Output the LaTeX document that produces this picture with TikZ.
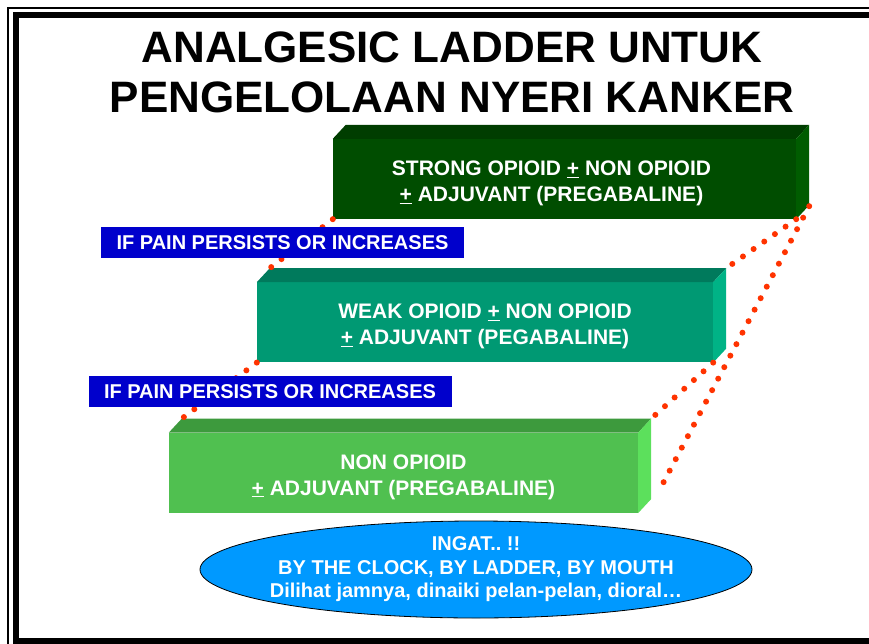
\documentclass[tikz,border=0pt]{standalone}
\usepackage{fontspec}
\setmainfont{Liberation Sans}
\usetikzlibrary{positioning, shapes.geometric}

\definecolor{strongfront}{RGB}{0,77,0}
\definecolor{strongtop}{RGB}{0,61,0}
\definecolor{strongside}{RGB}{0,92,0}
\definecolor{weakfront}{RGB}{0,153,115}
\definecolor{weaktop}{RGB}{0,122,92}
\definecolor{weakside}{RGB}{0,179,134}
\definecolor{nonfront}{RGB}{80,192,80}
\definecolor{nontop}{RGB}{61,154,61}
\definecolor{nonside}{RGB}{92,224,92}
\definecolor{labelblue}{RGB}{0,0,204}
\definecolor{memoblue}{RGB}{0,153,255}
\definecolor{dotred}{RGB}{255,51,0}

% taller first line, pushes the step text down a little
\newcommand{\steptop}{\rule{0pt}{23pt}}

\begin{document}
\begin{tikzpicture}[x=1pt, y=-1pt,
	stepbox/.style={rectangle, inner sep=0pt, minimum height=80pt, text=white, align=center, font=\fontsize{21}{26}\selectfont\bfseries},
	persist/.style={rectangle, fill=labelblue, text=white, inner sep=0pt, minimum width=363pt, minimum height=31pt, font=\fontsize{20}{22}\selectfont\bfseries},
	ladderdots/.style={draw=dotred, line width=6pt, line cap=round, dash pattern=on 0pt off 13pt},
	]
	\useasboundingbox (0,0) rectangle (869,644);
	\clip (0,0) rectangle (869,644);

	% frame
	\draw[line width=1.5pt] (8,8) rectangle (890,660);
	\draw[line width=6pt] (16,15) rectangle (885,641);

	\node[anchor=north, inner sep=0pt, align=center, font=\fontsize{44}{50}\selectfont\bfseries] (title) at (452,32) {ANALGESIC LADDER UNTUK\\PENGELOLAAN NYERI KANKER};

	% the three steps
	\node[stepbox, fill=strongfront, minimum width=463pt] (strong) at (564.5,179) {\steptop STRONG OPIOID \underline{+} NON OPIOID\hspace*{26pt}\\\underline{+} ADJUVANT (PREGABALINE)\hspace*{26pt}};
	\node[stepbox, fill=weakfront, minimum width=456pt, below left=63pt and 83pt of strong.south east] (weak) {\steptop WEAK OPIOID \underline{+} NON OPIOID\\\underline{+} ADJUVANT (PEGABALINE)};
	\node[stepbox, fill=nonfront, minimum width=469pt, below left=70pt and 75pt of weak.south east] (non) {\steptop NON OPIOID\\\underline{+} ADJUVANT (PREGABALINE)};

	\foreach \b/\tc/\sc in {strong/strongtop/strongside, weak/weaktop/weakside, non/nontop/nonside} {
		\fill[\tc] (\b.north west) -- ++(13,-14) -- ([shift={(13,-14)}]\b.north east) -- (\b.north east) -- cycle;
		\fill[\sc] (\b.north east) -- ++(13,-14) -- ([shift={(13,-14)}]\b.south east) -- (\b.south east) -- cycle;
		\coordinate (\b-nw) at ([shift={(13,-14)}]\b.north west);
		\coordinate (\b-ne) at ([shift={(13,-14)}]\b.north east);
		\coordinate (\b-se) at ([shift={(13,-13)}]\b.south east);
	}
	\coordinate (tail) at (660,489);

	\draw [ladderdots]
		(strong.south west) edge (weak-nw)
		(weak.south west) edge (non-nw)
		(strong.south east) edge (weak-ne)
		(weak.south east) edge (non-ne)
		(strong-se) edge (tail)
		;

	\node[persist] (persist1) at (282.5,242.5) {IF PAIN PERSISTS OR INCREASES};
	\node[persist] (persist2) at (270,391.5) {IF PAIN PERSISTS OR INCREASES};

	\node[ellipse, draw, line width=0.8pt, fill=memoblue, text=white, align=center, inner xsep=-20pt, inner ysep=0pt, minimum width=552pt, minimum height=97pt, font=\fontsize{20}{23.5}\selectfont\bfseries] (ingat) at (476,569.5) {INGAT..\ !!\\BY THE CLOCK, BY LADDER, BY MOUTH\\Dilihat jamnya, dinaiki pelan-pelan, dioral\dots};
\end{tikzpicture}
\end{document}
